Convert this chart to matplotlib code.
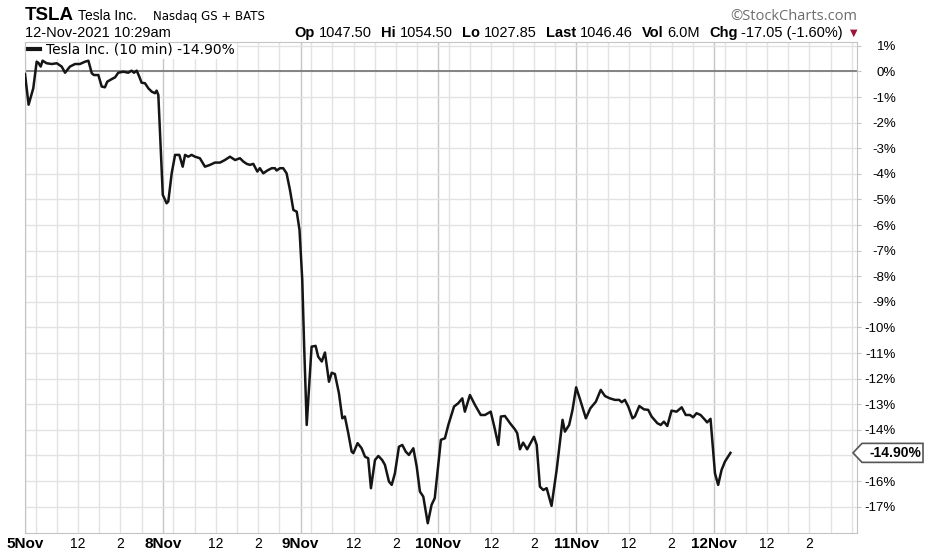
import matplotlib
matplotlib.use('Agg')
import matplotlib.pyplot as plt
from matplotlib.patches import Polygon
from matplotlib.transforms import IdentityTransform

# TSLA 10 min bars, % change since 5-Nov open; x = trading hours since 5-Nov 9:30 (6.5 h per session)
hours = [0.00, 0.17, 0.39, 0.55, 0.63, 0.74, 0.83, 1.02, 1.26, 1.50, 1.73, 1.89, 2.12, 2.36, 2.59,
         2.83, 2.99, 3.15, 3.25, 3.46, 3.62, 3.77, 3.88, 4.09, 4.25, 4.40, 4.64, 4.87, 5.03, 5.14,
         5.27, 5.39, 5.50, 5.66, 5.82, 5.98, 6.13, 6.21, 6.29,
         6.50, 6.68, 6.76, 6.92, 7.08, 7.28, 7.44, 7.55, 7.70, 7.86, 8.02, 8.25, 8.49, 8.73, 8.96,
         9.20, 9.43, 9.67, 9.91, 10.14, 10.30, 10.46, 10.61, 10.77, 10.96, 11.08, 11.24, 11.43,
         11.64, 11.79, 11.87, 12.03, 12.18, 12.34, 12.50, 12.66, 12.82,
         12.95, 13.08, 13.17, 13.29, 13.52, 13.71, 13.83, 14.00, 14.15, 14.34, 14.47, 14.62, 14.81,
         14.97, 15.09, 15.25, 15.41, 15.49, 15.69, 15.88, 16.04, 16.19, 16.32, 16.51, 16.67, 16.85,
         16.98, 17.17, 17.30, 17.45, 17.64, 17.80, 17.96, 18.11, 18.32, 18.48, 18.63, 18.79, 19.00,
         19.18, 19.33,
         19.62, 19.81, 19.97, 20.24, 20.44, 20.63, 20.75, 20.99, 21.23, 21.50, 21.70, 21.97, 22.14,
         22.33, 22.45, 22.64, 22.88, 23.11, 23.22, 23.35, 23.50, 23.69, 24.01, 24.14, 24.29, 24.45,
         24.61, 24.84, 25.08, 25.36, 25.47, 25.67, 25.83,
         26.00, 26.18, 26.46, 26.67, 26.93, 27.16, 27.36, 27.59, 27.83, 28.03, 28.15, 28.30, 28.46,
         28.66, 28.77, 28.98, 29.20, 29.40, 29.56, 29.83, 29.99, 30.14, 30.30, 30.50, 30.74, 30.98,
         31.17, 31.37, 31.52, 31.68, 31.87, 32.08, 32.18, 32.34,
         32.47, 32.55, 32.70, 32.86, 33.02, 33.28]
pct = [-0.10, -1.30, -0.66, 0.38, 0.34, 0.19, 0.42, 0.32, 0.29, 0.32, 0.19, -0.05, 0.19, 0.29, 0.29,
       0.38, 0.42, -0.07, -0.14, -0.14, -0.59, -0.62, -0.40, -0.30, -0.23, -0.05, -0.01, -0.05, 0.03,
       -0.05, 0.03, -0.20, -0.44, -0.46, -0.66, -0.79, -0.85, -0.75, -0.92,
       -4.82, -5.15, -5.08, -3.98, -3.26, -3.26, -3.72, -3.26, -3.33, -3.26, -3.33, -3.39, -3.72,
       -3.65, -3.56, -3.56, -3.46, -3.33, -3.46, -3.39, -3.52, -3.61, -3.65, -3.61, -3.91, -3.78,
       -3.98, -3.87, -3.78, -3.78, -3.87, -3.78, -3.78, -3.98, -4.63, -5.41, -5.48,
       -6.19, -8.14, -10.75, -13.81, -10.75, -10.72, -11.14, -11.33, -10.98, -12.12, -11.77, -11.82,
       -12.57, -13.55, -13.48, -14.13, -14.85, -14.91, -14.52, -14.72, -15.05, -15.11, -16.28,
       -15.18, -15.02, -15.18, -15.37, -16.02, -16.15, -15.70, -14.66, -14.59, -14.85, -14.98,
       -14.72, -15.44, -16.41, -16.61, -17.65, -16.93, -16.67,
       -14.39, -14.33, -13.81, -13.09, -12.96, -12.77, -13.29, -12.64, -13.03, -13.42, -13.42,
       -13.29, -13.88, -14.59, -13.48, -13.46, -13.74, -13.98, -14.13, -14.76, -14.50, -14.76,
       -14.27, -14.59, -16.22, -16.35, -16.28, -16.97, -15.57, -13.61, -14.07, -13.81, -13.22,
       -12.34, -12.80, -13.55, -13.16, -12.90, -12.44, -12.68, -12.77, -12.83, -12.83, -12.92,
       -12.83, -13.09, -13.55, -13.48, -13.07, -13.20, -13.22, -13.48, -13.74, -13.81, -13.68,
       -13.85, -13.25, -13.29, -13.12, -13.42, -13.42, -13.51, -13.35, -13.42, -13.61, -13.71,
       -13.57,
       -14.91, -15.70, -16.15, -15.57, -15.24, -14.90]

day_labels = ['5Nov', '8Nov', '9Nov', '10Nov', '11Nov', '12Nov']
session = 6.5
hour_labels = ['', '', '12', '', '2', '']   # 10, 11, 12, 1, 2, 3 o'clock
y_ticks = list(range(-17, 2))

quote = [('Op', '1047.50'), ('Hi', '1054.50'), ('Lo', '1027.85'), ('Last', '1046.46'),
         ('Vol', '6.0M'), ('Chg', '-17.05 (-1.60%)')]

W, H = 936, 556
plt.rcParams['font.family'] = ['Liberation Sans', 'DejaVu Sans']
fig = plt.figure(figsize=(W / 100, H / 100), dpi=100)
ax = fig.add_axes([25 / W, 23 / H, 832 / W, 491 / H])

ax.plot(hours, pct, color='#151515', lw=1.8, zorder=3, solid_joinstyle='round',
        label=f'Tesla Inc. (10 min) {pct[-1]:.2f}%')
ax.axhline(0, color='#7a7a7a', lw=1.3, zorder=2)

ax.set_xlim(0, 39.25)
ax.set_ylim(-18.03, 1.15)

day_pos = [i * session for i in range(len(day_labels))]
ax.set_xticks(day_pos, labels=day_labels)
minor_pos, minor_lab = [], []
for d in day_pos:
    for k, lab in enumerate(hour_labels):
        minor_pos.append(d + 0.5 + k)
        minor_lab.append(lab)
minor_pos.append(day_pos[-1] + session)
minor_lab.append('')
ax.set_xticks(minor_pos, labels=minor_lab, minor=True)
ax.tick_params(axis='x', which='both', length=0, pad=3)
ax.tick_params(axis='x', which='major', labelsize=11)
ax.tick_params(axis='x', which='minor', labelsize=10)
for t in ax.get_xticklabels():
    t.set_fontweight('bold')

# the last-value tag covers the label nearest to it
last_row = round(pct[-1])
ax.yaxis.tick_right()
ax.set_yticks(y_ticks, labels=['' if v == last_row else f'{v}%' for v in y_ticks])
ax.tick_params(axis='y', length=3, color='#c4c4c4', pad=25, labelsize=9.5)
for t in ax.get_yticklabels():
    t.set_horizontalalignment('right')

ax.grid(True, axis='x', which='major', color='#c6c6c6', lw=1)
ax.grid(True, axis='x', which='minor', color='#e2e2e2', lw=1)
ax.grid(True, axis='y', which='major', color='#e2e2e2', lw=1)
ax.set_axisbelow(True)
for s in ax.spines.values():
    s.set_color('#c4c4c4')

leg = ax.legend(loc='upper left', bbox_to_anchor=(0, 1.003), frameon=True, framealpha=1,
                facecolor='white', edgecolor='none', fancybox=False, borderpad=0.15,
                borderaxespad=0, handlelength=0.9, handletextpad=0.45,
                prop={'family': 'DejaVu Sans', 'size': 10})
leg.get_lines()[0].set_linewidth(3)
leg.set_zorder(1.5)

# header
r = fig.canvas.get_renderer()


def put(x, y, s, **kw):
    return fig.text(x / W, 1 - y / H, s, va='baseline', **kw)


def width(t):
    return t.get_window_extent(r).width


t = put(25, 20, 'TSLA', fontsize=13.5, fontweight='bold')
t = put(25 + width(t) + 4, 20, 'Tesla Inc.', fontsize=10)
put(153, 20, 'Nasdaq GS + BATS', fontsize=8.5, family='DejaVu Sans')
put(857, 20, '\u00a9StockCharts.com', fontsize=10.5, family='Open Sans', color='#6d6d6d', ha='right')
put(25, 37, '12-Nov-2021 10:29am', fontsize=10.5)

fig.text(857 / W, 1 - 36 / H, '\u25bc', fontsize=7, color='#9c1437', ha='right', va='baseline',
         family='DejaVu Sans')
x = 843
for lab, val in reversed(quote):
    t = put(x, 37, val, fontsize=10.5, ha='right')
    x -= width(t) + 4
    t = put(x, 37, lab, fontsize=10.5, fontweight='bold', ha='right')
    x -= width(t) + 9

# last value tag on the right axis
px, py = ax.transData.transform((39.25, pct[-1]))
tag = Polygon([(px - 4, py), (px + 5, py + 9.5), (px + 66, py + 9.5), (px + 66, py - 9.5),
               (px + 5, py - 9.5)], closed=True, fc='white', ec='#555555', lw=1.2,
              transform=IdentityTransform(), zorder=5)
fig.add_artist(tag)
fig.text((px + 64) / W, py / H, f'{pct[-1]:.2f}%', ha='right', va='center', fontsize=10,
         fontweight='bold', zorder=6)

fig.savefig('out.png', dpi=100, facecolor='white')
